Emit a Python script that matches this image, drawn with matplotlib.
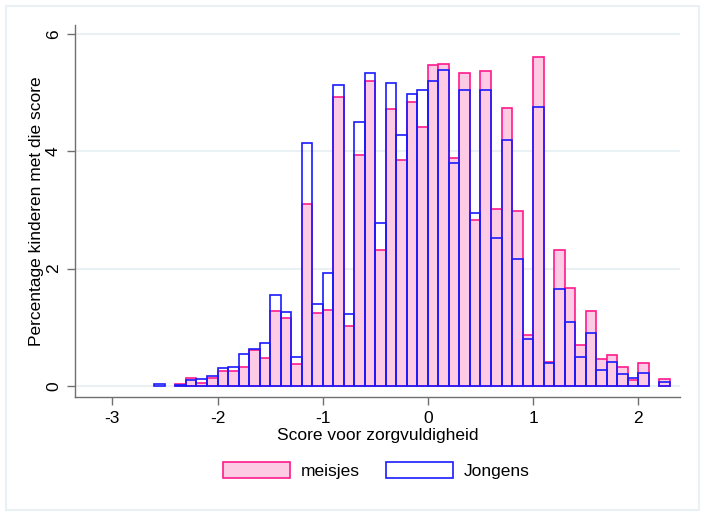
import numpy as np
import matplotlib.pyplot as plt
from matplotlib.patches import Rectangle, Patch

plt.rcParams['font.family'] = ['Liberation Sans', 'DejaVu Sans']
plt.rcParams['axes.unicode_minus'] = False

# linker rand van elke klasse (breedte 0.1)
bin_left = np.round(np.arange(-2.6, 2.25, 0.1), 1)

meisjes = [0, 0, 0.03, 0.137, 0.046, 0.13, 0.25, 0.246, 0.314, 0.617,
           0.469, 1.269, 1.154, 0.371, 3.097, 1.24, 1.297, 4.926, 1.017, 3.937,
           5.194, 2.32, 4.731, 3.851, 4.846, 4.423, 5.48, 5.491, 3.891, 5.337,
           2.823, 5.371, 3.017, 4.743, 2.989, 0.863, 5.606, 0.4, 2.32, 1.669,
           0.691, 1.269, 0.463, 0.526, 0.32, 0.097, 0.394, 0, 0.12]
jongens = [0.03, 0, 0.02, 0.09, 0.114, 0.16, 0.30, 0.32, 0.537, 0.634,
           0.737, 1.543, 1.251, 0.497, 4.149, 1.389, 1.92, 5.137, 1.229, 4.503,
           5.343, 2.771, 5.166, 4.274, 4.977, 5.04, 5.206, 5.389, 3.8, 5.051,
           2.949, 5.046, 2.52, 4.189, 2.166, 0.789, 4.754, 0.383, 1.646, 1.086,
           0.486, 0.897, 0.269, 0.406, 0.2, 0.126, 0.223, 0, 0.069]

pink_fill = '#fdcce4'
pink_edge = '#ff1a8c'
blue_edge = '#1a1aff'
grid_col = '#eaf1f4'

fig = plt.figure(figsize=(7.05, 5.16), dpi=100)
ax = fig.add_axes([0.1064, 0.2312, 0.858, 0.7204])

m = np.array(meisjes)
j = np.array(jongens)
ax.bar(bin_left[m > 0], m[m > 0], width=0.1, align='edge',
       color=pink_fill, edgecolor=pink_edge, linewidth=1.2, zorder=2)
ax.bar(bin_left[j > 0], j[j > 0], width=0.1, align='edge',
       color='none', edgecolor=blue_edge, linewidth=1.2, zorder=3)

ax.set_xlim(-3.355, 2.396)
ax.set_ylim(-0.188, 6.158)
ax.set_xticks([-3, -2, -1, 0, 1, 2])
ax.set_yticks([0, 2, 4, 6])
ax.set_yticklabels(['0', '2', '4', '6'], rotation=90, va='center')
for y in [0, 2, 4, 6]:
    ax.axhline(y, color=grid_col, linewidth=1.5, zorder=1)

for s in ['top', 'right']:
    ax.spines[s].set_visible(False)
for s in ['left', 'bottom']:
    ax.spines[s].set_color('#707070')
    ax.spines[s].set_linewidth(1.0)
ax.tick_params(length=6, width=1.0, color='#707070', labelsize=12.5, pad=4)

ax.set_xlabel('Score voor zorgvuldigheid', fontsize=12.5, labelpad=2)
ax.set_ylabel('Percentage kinderen met die score', fontsize=12.5, labelpad=1.7)

handles = [Patch(facecolor=pink_fill, edgecolor=pink_edge, linewidth=1.2),
           Patch(facecolor='white', edgecolor=blue_edge, linewidth=1.2)]
fig.legend(handles, ['meisjes', 'Jongens'], loc='center',
           bbox_to_anchor=(0.534, 0.089), ncol=2, frameon=False,
           fontsize=12.5, handlelength=3.85, handleheight=1.05,
           columnspacing=1.55, handletextpad=0.6)

fig.patches.append(Rectangle((6 / 705, 6 / 516), 693 / 705, 504 / 516,
                             transform=fig.transFigure, fill=False,
                             edgecolor=grid_col, linewidth=1.5))

fig.savefig('out.png', dpi=100)
